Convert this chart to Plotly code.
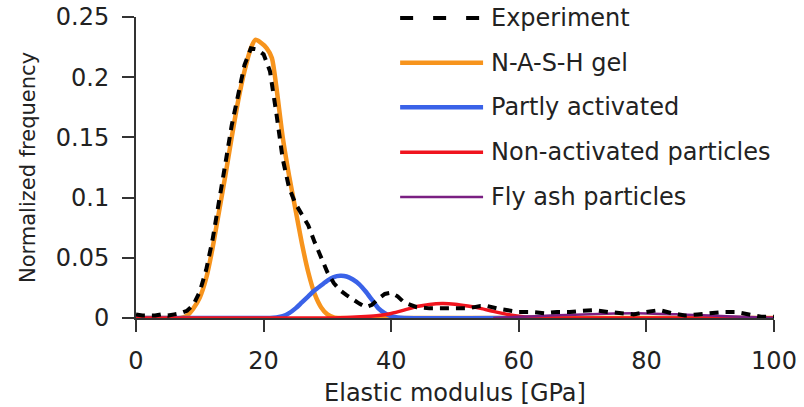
import plotly.graph_objects as go

# ---------------- data ----------------
exp_x = [0, 1, 2, 3, 4, 5, 6, 7, 8, 9, 10, 11, 12, 13, 14, 15, 16, 17, 18, 19,
         20, 21, 22, 23, 24, 25, 26, 27, 28, 29, 30, 31, 32, 33, 34, 35, 36, 37,
         38, 39, 40, 41, 42, 43, 44, 46, 48, 50, 52, 54, 55, 57, 60, 62, 64, 66,
         68, 70, 72, 74, 76, 78, 80, 82, 84, 86, 88, 90, 92, 94, 96, 98, 100]
exp_y = [0.003, 0.002, 0.002, 0.002, 0.003, 0.002, 0.003, 0.004, 0.006, 0.011,
         0.022, 0.040, 0.065, 0.095, 0.128, 0.160, 0.186, 0.210, 0.224, 0.223,
         0.219, 0.205, 0.170, 0.132, 0.108, 0.095, 0.086, 0.077, 0.063, 0.050,
         0.038, 0.029, 0.023, 0.019, 0.015, 0.012, 0.009, 0.011, 0.016, 0.020,
         0.021, 0.018, 0.013, 0.011, 0.009, 0.008, 0.008, 0.008, 0.008, 0.010,
         0.010, 0.0075, 0.005, 0.005, 0.004, 0.005, 0.005, 0.006, 0.0065, 0.005,
         0.004, 0.003, 0.005, 0.0066, 0.004, 0.002, 0.003, 0.004, 0.005, 0.005,
         0.003, 0.001, 0.001]

gel_x = [0, 4, 7, 8, 9, 10, 11, 12, 13, 14, 15, 16, 17, 18, 18.7, 19.5, 20.5,
         21.3, 22, 23, 24, 25, 26, 27, 28, 29, 30, 31, 32, 50, 100]
gel_y = [0, 0, 0, 0.002, 0.008, 0.017, 0.033, 0.058, 0.088, 0.118, 0.150, 0.180,
         0.205, 0.224, 0.231, 0.229, 0.224, 0.216, 0.192, 0.150, 0.118, 0.090,
         0.062, 0.038, 0.020, 0.009, 0.003, 0.0005, 0, 0, 0]

part_x = [0, 10, 21, 22, 23, 24, 25, 26, 27, 28, 29, 30, 31, 32, 33, 34, 35, 36,
          37, 38, 39, 40, 41, 42, 60]
part_y = [0, 0, 0, 0.0005, 0.0015, 0.004, 0.008, 0.013, 0.018, 0.023, 0.027,
          0.031, 0.034, 0.035, 0.0345, 0.032, 0.028, 0.022, 0.015, 0.008, 0.004,
          0.0015, 0.0005, 0, 0]

non_x = [0, 20, 30, 33, 36, 38, 40, 42, 44, 46, 48, 50, 52, 54, 56, 58, 60, 62,
         65, 80, 100]
non_y = [0, 0, 0, 0.0005, 0.0012, 0.002, 0.0038, 0.0065, 0.0095, 0.0113, 0.012,
         0.0115, 0.010, 0.008, 0.0055, 0.0032, 0.0015, 0.0005, 0, 0, 0]

fly_x = [56, 60, 65, 70, 75, 80, 85, 90, 95, 100]
fly_y = [0, 0.001, 0.002, 0.003, 0.0037, 0.0038, 0.003, 0.002, 0.001, 0]

x_ticks = [0, 20, 40, 60, 80, 100]
y_ticks = [0, 0.05, 0.1, 0.15, 0.2, 0.25]
y_tick_text = ["0", "0.05", "0.1", "0.15", "0.2", "0.25"]

names = ["Experiment", "N-A-S-H gel", "Partly activated",
         "Non-activated particles", "Fly ash particles"]
colors = ["#000000", "#F7941D", "#3A62E8", "#F0141E", "#7A1F82"]
widths = [4, 4.5, 4.5, 3.5, 2.5]

FONT = "DejaVu Sans"

fig = go.Figure()
series = [(gel_x, gel_y, 1), (part_x, part_y, 2), (non_x, non_y, 3),
          (fly_x, fly_y, 4)]
for xs, ys, i in series:
    fig.add_trace(go.Scatter(x=xs, y=ys, mode="lines", name=names[i],
                             line=dict(color=colors[i], width=widths[i],
                                       shape="spline", smoothing=0.6),
                             cliponaxis=False, showlegend=False))
fig.add_trace(go.Scatter(x=exp_x, y=exp_y, mode="lines", name=names[0],
                         line=dict(color=colors[0], width=widths[0],
                                   dash="9px,7px"),
                         cliponaxis=False, showlegend=False))

# ---- legend drawn as shapes + text (long sample lines as in the original) ----
leg_y = [0.997, 0.848, 0.700, 0.551, 0.402]
for i, nm in enumerate(names):
    fig.add_shape(type="line", xref="paper", yref="paper",
                  x0=0.414, x1=0.544, y0=leg_y[i], y1=leg_y[i],
                  line=dict(color=colors[i], width=widths[i],
                            dash="13px,20px" if i == 0 else "solid"))
    fig.add_annotation(x=0.553, y=leg_y[i], xref="paper", yref="paper",
                       text=nm, showarrow=False, xanchor="left",
                       yanchor="middle",
                       font=dict(family=FONT, size=24, color="#222222"))

axis_common = dict(showline=True, linecolor="#333333", linewidth=2,
                   ticks="outside", ticklen=12, tickwidth=2,
                   tickcolor="#333333", showgrid=False, zeroline=False,
                   tickfont=dict(family=FONT, size=24, color="#222222"))

fig.update_xaxes(range=[0, 100], tickvals=x_ticks,
                 ticktext=[str(v) for v in x_ticks],
                 ticklabelstandoff=8,
                 title=dict(text="Elastic modulus [GPa]", standoff=10,
                            font=dict(family=FONT, size=24, color="#222222")),
                 **axis_common)
fig.update_yaxes(range=[0, 0.25], tickvals=y_ticks, ticktext=y_tick_text,
                 ticklabelstandoff=8,
                 title=dict(text="Normalized frequency", standoff=14,
                            font=dict(family=FONT, size=21, color="#222222")),
                 **axis_common)

fig.update_layout(width=804, height=407,
                  margin=dict(l=136, r=30, t=17, b=89, autoexpand=False),
                  plot_bgcolor="white", paper_bgcolor="white",
                  showlegend=False)

fig.write_html("out.html")
